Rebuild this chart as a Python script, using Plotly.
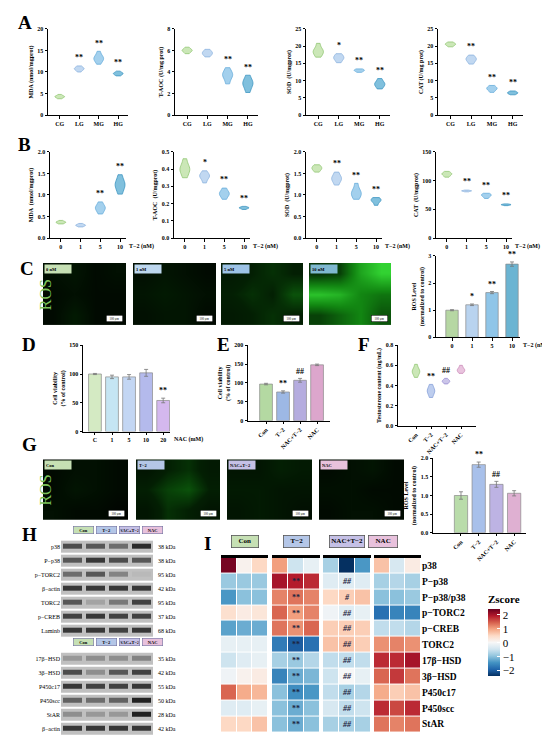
import plotly.graph_objects as go

W, H = 550, 735
SERIF = "Liberation Serif"

# ---------------- data ----------------
A_GROUPS = ["CG", "LG", "MG", "HG"]
A_MDA = [[3.8, 4.1, 4.3, 4.3, 4.4, 4.8], [10.0, 10.5, 10.7, 10.8, 11.0, 11.4],
         [11.8, 12.6, 13.0, 13.1, 13.3, 13.8, 14.8], [9.1, 9.4, 9.6, 9.7, 9.8, 10.2]]
A_TAOC = [[5.7, 5.9, 6.0, 6.0, 6.1, 6.3], [5.4, 5.6, 5.7, 5.8, 5.9, 6.1],
          [2.9, 3.4, 3.7, 3.8, 3.9, 4.4], [2.1, 2.6, 2.9, 3.0, 3.2, 3.7]]
A_SOD = [[16.8, 17.8, 18.3, 18.6, 19.2, 20.8], [15.2, 16.0, 16.5, 16.7, 17.2, 17.8],
         [12.4, 12.7, 12.9, 13.0, 13.2, 13.4], [7.6, 8.4, 8.9, 9.1, 9.6, 10.6]]
A_CAT = [[19.8, 20.2, 20.5, 20.6, 20.8, 21.2], [14.8, 15.6, 16.1, 16.3, 16.7, 17.4],
         [6.6, 7.3, 7.6, 7.8, 8.1, 8.6], [5.9, 6.2, 6.4, 6.5, 6.7, 7.0]]
A_SIG = [["", "**", "**", "**"], ["", "", "**", "**"], ["", "*", "**", "**"], ["", "**", "**", "**"]]

B_DOSES = ["0", "1", "5", "10"]
B_MDA = [[0.33, 0.35, 0.37, 0.37, 0.38, 0.41], [0.26, 0.28, 0.30, 0.30, 0.31, 0.34],
         [0.56, 0.64, 0.69, 0.71, 0.75, 0.84], [1.02, 1.15, 1.22, 1.26, 1.32, 1.47]]
B_TAOC = [[0.35, 0.38, 0.40, 0.40, 0.42, 0.46], [0.32, 0.345, 0.36, 0.36, 0.37, 0.39],
          [0.225, 0.245, 0.255, 0.26, 0.27, 0.29], [0.166, 0.172, 0.175, 0.176, 0.178, 0.184]]
B_SOD = [[1.53, 1.58, 1.61, 1.63, 1.66, 1.70], [1.23, 1.32, 1.37, 1.39, 1.44, 1.53],
         [0.90, 0.98, 1.03, 1.06, 1.12, 1.27], [0.76, 0.83, 0.87, 0.88, 0.91, 0.94]]
B_CAT = [[106, 109, 111, 112, 113, 116], [80.5, 81.5, 82, 82.2, 82.5, 83.5],
         [69, 72, 74, 75, 76, 78], [56.5, 57.5, 58, 58.2, 58.6, 59.5]]
B_SIG = [["", "", "**", "**"], ["", "*", "**", "**"], ["", "**", "**", "**"], ["", "**", "**", "**"]]

C_LABELS = ["0 nM", "1 nM", "5 nM", "10 nM"]
# mean green intensity in a 3x4 grid of each micrograph (top row first)
C_IMAGES = [
    [[0.15, 0.20, 0.10, 0.15], [0.10, 0.15, 0.10, 0.10], [0.10, 0.25, 0.10, 0.10]],
    [[0.15, 0.20, 0.15, 0.10], [0.20, 0.25, 0.20, 0.15], [0.15, 0.20, 0.20, 0.10]],
    [[0.25, 0.30, 0.35, 0.30], [0.30, 0.35, 0.30, 0.45], [0.25, 0.30, 0.35, 0.30]],
    [[0.35, 0.40, 0.70, 0.85], [0.80, 0.75, 0.60, 0.55], [0.40, 0.50, 0.60, 0.45]],
]
C_ROS = [1.0, 1.2, 1.65, 2.7]
C_ROS_ERR = [0.02, 0.03, 0.04, 0.08]
C_SIG = ["", "*", "**", "**"]

D_DOSES = ["C", "1", "5", "10", "20"]
D_VIAB = [100, 95, 95, 102, 54]
D_ERR = [1, 3, 4, 6, 4]
D_SIG = ["", "", "", "", "**"]

TREAT = ["Con", "T−2", "NAC+T−2", "NAC"]
E_VIAB = [97, 76, 107, 148]
E_ERR = [2, 3, 5, 2]
E_SIG = ["", "**", "##", ""]

F_TESTO = [[0.48, 0.52, 0.54, 0.54, 0.56, 0.61], [0.28, 0.32, 0.34, 0.35, 0.37, 0.41],
           [0.415, 0.43, 0.44, 0.445, 0.45, 0.47], [0.52, 0.54, 0.55, 0.555, 0.57, 0.60]]
F_SIG = ["", "**", "##", ""]

G_IMAGES = [
    [[0.10, 0.15, 0.15, 0.10], [0.10, 0.20, 0.15, 0.10], [0.15, 0.10, 0.10, 0.05]],
    [[0.20, 0.30, 0.35, 0.25], [0.30, 0.40, 0.45, 0.30], [0.20, 0.35, 0.30, 0.20]],
    [[0.20, 0.20, 0.30, 0.25], [0.25, 0.25, 0.20, 0.20], [0.20, 0.25, 0.20, 0.15]],
    [[0.10, 0.15, 0.20, 0.10], [0.15, 0.15, 0.10, 0.10], [0.10, 0.15, 0.15, 0.10]],
]
G_ROS = [1.0, 1.83, 1.30, 1.06]
G_ROS_ERR = [0.10, 0.07, 0.08, 0.07]
G_SIG = ["", "**", "##", ""]

BLOT1_ROWS = ["p38", "P−p38", "p−TORC2", "β−actin", "TORC2", "p−CREB", "Laminb"]
BLOT1_KDA = ["38 kDa", "38 kDa", "95 kDa", "42 kDa", "95 kDa", "37 kDa", "68 kDa"]
BLOT1_BANDS = [[0.75, 0.70, 0.60, 0.90], [0.70, 0.85, 0.75, 0.70], [0.60, 0.70, 0.50, 0.25],
               [0.85, 0.85, 0.85, 0.85], [0.70, 0.35, 0.55, 0.80], [0.80, 0.85, 0.80, 0.80],
               [0.85, 0.85, 0.80, 0.85]]
BLOT2_ROWS = ["17β−HSD", "3β−HSD", "P450c17", "P450scc", "StAR", "β−actin"]
BLOT2_KDA = ["35 kDa", "42 kDa", "55 kDa", "50 kDa", "28 kDa", "42 kDa"]
BLOT2_BANDS = [[0.40, 0.45, 0.45, 0.50], [0.75, 0.45, 0.70, 0.80], [0.85, 0.80, 0.80, 0.85],
               [0.65, 0.60, 0.65, 0.95], [0.45, 0.40, 0.40, 0.95], [0.85, 0.85, 0.85, 0.85]]

HM_ROWS = ["p38", "P−p38", "P−p38/p38", "p−TORC2", "p−CREB", "TORC2",
           "17β−HSD", "3β−HSD", "P450c17", "P450scc", "StAR"]
HM_CON = [[2.3, 0.1, 0.5], [-0.9, -0.9, -0.9], [-1.4, -1.0, -1.0], [0.4, 0.2, 0.3], [-1.3, -1.2, -1.2],
          [-0.2, -0.2, -0.2], [-0.5, -0.3, -0.2], [-0.1, 0.1, 0.2], [1.4, 0.9, 0.8], [-0.3, -0.3, -0.2], [0.5, 0.5, 0.7]]
HM_T2 = [[1.0, -0.5, -0.2], [2.0, 1.9, 1.8], [1.2, 1.3, 1.2], [1.4, 1.0, 1.2], [1.3, 1.1, 1.4],
         [-1.7, -2.0, -1.8], [-0.8, -0.9, -0.7], [-1.6, -1.2, -1.1], [-1.0, -1.5, -1.4], [-1.0, -1.2, -1.0], [-1.0, -1.2, -1.0]]
HM_NACT2 = [[-0.8, -2.4, -1.4], [-0.3, -0.3, -0.3], [0.5, 0.6, 0.7], [-0.1, -0.3, -0.2], [0.6, 0.6, 0.6],
            [0.7, 0.7, 0.6], [-0.6, -0.6, -0.6], [-0.5, 0.0, -0.2], [-0.6, -0.8, -0.7], [-0.4, -0.6, -0.5], [-0.8, -0.8, -0.8]]
HM_NAC = [[0.7, -0.4, 0.2], [-0.8, -0.7, -0.8], [-1.0, -1.0, -0.9], [-1.8, -1.6, -1.6], [-0.6, -0.6, -0.7],
          [1.1, 1.2, 1.1], [1.8, 1.8, 2.0], [1.4, 1.7, 1.3], [0.9, 0.6, 0.7], [1.8, 1.6, 1.8], [1.3, 1.2, 1.3]]
HM_T2_SIG = ["", "**", "**", "**", "**", "**", "**", "**", "**", "**", "**"]
HM_NACT2_SIG = ["", "##", "#", "##", "##", "##", "##", "##", "##", "##", "##"]

# ---------------- styles ----------------
VIOLIN_BLUES = [("rgba(190,225,165,0.8)", "#92c673"), ("rgba(178,206,238,0.8)", "#8cb2de"),
                ("rgba(140,196,232,0.8)", "#66acdb"), ("rgba(96,176,212,0.8)", "#3d95c2")]
VIOLIN_TREAT = [("rgba(190,225,165,0.8)", "#92c673"), ("rgba(172,192,234,0.8)", "#859fd8"),
                ("rgba(190,182,228,0.8)", "#978cd0"), ("rgba(228,180,214,0.8)", "#c98ab7")]
HDR_COLORS = ["#c6e0b4", "#b4c6e7", "#c5c0e6", "#e8c1dc"]
C_TAB_COLORS = ["#c6e0b4", "#bdd7ee", "#9dc3e6", "#7fb8d0"]
GLOW = [[0, "#000000"], [0.3, "#031f03"], [0.6, "#128612"], [1, "#45ff45"]]
BLOT_SCALE = [[0, "#f2f2f2"], [0.25, "#b9b9b9"], [1, "#161616"]]
RDBU = [[0.0, "#053061"], [0.1, "#2166ac"], [0.2, "#4393c3"], [0.3, "#92c5de"], [0.4, "#d1e5f0"],
        [0.5, "#f7f7f7"], [0.6, "#fddbc7"], [0.7, "#f4a582"], [0.8, "#d6604d"], [0.9, "#b2182b"], [1.0, "#67001f"]]

TICKFONT = dict(family=SERIF, size=6, color="black", weight="bold")
AX = dict(showline=True, linecolor="black", linewidth=1, ticks="outside", ticklen=2.5, tickwidth=1,
          tickcolor="black", showgrid=False, zeroline=False, tickfont=TICKFONT)

fig = go.Figure()
_n = [0]


def axes(x0, x1, top, bottom, xa=None, ya=None):
    _n[0] += 1
    s = "" if _n[0] == 1 else str(_n[0])
    xd = dict(AX, domain=[x0 / W, x1 / W], anchor="y" + s)
    yd = dict(AX, domain=[1 - bottom / H, 1 - top / H], anchor="x" + s)
    xd.update(xa or {})
    yd.update(ya or {})
    fig.update_layout({"xaxis" + s: xd, "yaxis" + s: yd})
    return "x" + s, "y" + s


def text(x, y, t, size=6, **kw):
    fig.add_annotation(x=x / W, y=1 - y / H, xref="paper", yref="paper", text=t, showarrow=False,
                       font=dict(family=SERIF, size=size, color=kw.pop("color", "black"),
                                 weight=kw.pop("weight", "bold")), **kw)


def ytitle(t):
    return dict(text=t, font=dict(family=SERIF, size=6, color="black", weight="bold"), standoff=3)


def stars(xr, yr, tops, sig, pad, size=8):
    # x is given as the category index so that numeric-looking labels ("5", "10") stay on their slot
    for i, (t, s) in enumerate(zip(tops, sig)):
        if s:
            fig.add_annotation(x=i, y=t + pad, xref=xr, yref=yr, text=s, showarrow=False, yanchor="bottom",
                               font=dict(family=SERIF, size=size, color="black", weight="bold"))


def violin_panel(box, cats, data, sig, colors, yrange, dtick, title, xrange, fmt="", tickangle=0):
    xr, yr = axes(*box,
                  xa=dict(type="category", categoryorder="array", categoryarray=cats, range=xrange,
                          tickangle=tickangle),
                  ya=dict(range=yrange, dtick=dtick, tickformat=fmt, title=ytitle(title)))
    for c, vals, (fill, line) in zip(cats, data, colors):
        fig.add_trace(go.Violin(x=[c] * len(vals), y=vals, xaxis=xr, yaxis=yr, fillcolor=fill,
                                line=dict(color=line, width=0.8), width=0.5, points=False,
                                bandwidth=0.22 * (max(vals) - min(vals)),
                                spanmode="hard", showlegend=False, hoverinfo="skip"))
    stars(xr, yr, [max(v) for v in data], sig, (yrange[1] - yrange[0]) * 0.02)


def bar_panel(box, cats, vals, errs, sig, fills, yrange, dtick, title, xrange, bar_w, fmt="", tickangle=0):
    xr, yr = axes(*box,
                  xa=dict(type="category", categoryorder="array", categoryarray=cats, range=xrange,
                          tickangle=tickangle),
                  ya=dict(range=yrange, dtick=dtick, tickformat=fmt, title=ytitle(title)))
    fig.add_trace(go.Bar(x=cats, y=vals, width=bar_w, xaxis=xr, yaxis=yr, showlegend=False,
                         marker=dict(color=fills, line=dict(color="#8a8a8a", width=0.7)),
                         error_y=dict(type="data", array=errs, color="#777777", thickness=0.8, width=2)))
    stars(xr, yr, [v + e for v, e in zip(vals, errs)], sig, (yrange[1] - yrange[0]) * 0.01)


def image_panel(box, grid, label, tab_color):
    xr, yr = axes(*box, xa=dict(visible=False), ya=dict(visible=False, autorange="reversed"))
    fig.add_trace(go.Heatmap(z=grid, xaxis=xr, yaxis=yr, colorscale=GLOW, zmin=0, zmax=1,
                             zsmooth="best", showscale=False, hoverinfo="skip"))
    x0, x1, top, bottom = box
    text(x0 + 1, top + 1, label, size=4.5, xanchor="left", yanchor="top", bgcolor=tab_color,
         width=24, height=6, align="left")
    text(x1 - 3, bottom - 3, "100 μm", size=3, weight="normal", xanchor="right", yanchor="bottom",
         bgcolor="white", bordercolor="black", borderwidth=0.5, width=14, height=4)


# ---------------- A ----------------
A_BOXES = [(40, 120), (167, 250), (298, 382), (430, 515)]
A_TITLES = ["MDA (nmol/mgprot)", "T-AOC (U/mg prot)", "SOD  (U/mgprot)", "CAT (U/mg prot)"]
A_RANGES = [([0, 20], 5), ([0, 8], 2), ([0, 25], 5), ([0, 25], 5)]
for (x0, x1), d, s, t, (rg, dt) in zip(A_BOXES, [A_MDA, A_TAOC, A_SOD, A_CAT], A_SIG, A_TITLES, A_RANGES):
    violin_panel((x0, x1, 18, 105), A_GROUPS, d, s, VIOLIN_BLUES, rg, dt, t, [-0.6, 3.5])

# ---------------- B ----------------
B_BOXES = [(42, 118), (166, 242), (298, 374), (428, 504)]
B_TITLES = ["MDA  (nmol/mgprot)", "T-AOC  (U/mgprot)", "SOD  (U/mgprot)", "CAT  (U/mgprot)"]
B_RANGES = [([0, 2], 0.5, ".1f"), ([0, 0.5], 0.1, ".1f"), ([0, 2], 0.5, ".1f"), ([0, 150], 50, "")]
for (x0, x1), d, s, t, (rg, dt, f) in zip(B_BOXES, [B_MDA, B_TAOC, B_SOD, B_CAT], B_SIG, B_TITLES, B_RANGES):
    violin_panel((x0, x1, 142, 229), B_DOSES, d, s, VIOLIN_BLUES, rg, dt, t, [-0.55, 3.3], fmt=f)
    text(x1 + 1, 237, "T−2 (nM)", xanchor="left", yanchor="middle")

# ---------------- C ----------------
C_IMG_BOXES = [(35, 118), (125, 208), (213, 295), (301, 383)]
for (x0, x1), g, lab, col in zip(C_IMG_BOXES, C_IMAGES, C_LABELS, C_TAB_COLORS):
    image_panel((x0, x1, 254, 317), g, lab, col)
text(27, 286, "ROS", size=16, color="#7cc25a", weight="normal", textangle=-90)
bar_panel((428, 512, 247, 329), B_DOSES, C_ROS, C_ROS_ERR, C_SIG,
          ["#b6d7a3", "#b9d3ef", "#8fc5e8", "#6bb4d2"], [0, 3], 1,
          "ROS Level<br>(normalized to control)", [-0.8, 3.4], 0.62)
text(513, 337, "T−2 (nM)", xanchor="left", yanchor="middle")

# ---------------- D / E / F ----------------
bar_panel((75, 162, 337, 424), D_DOSES, D_VIAB, D_ERR, D_SIG,
          ["#d4eac3", "#c5e5f3", "#c3d6f3", "#b4baec", "#d4b8ee"], [0, 150], 50,
          "Cell viability<br>(% of control)", [-0.7, 4.4], 0.75)
text(164, 432, "NAC (mM)", xanchor="left", yanchor="middle")
bar_panel((240, 322, 337, 413), TREAT, E_VIAB, E_ERR, E_SIG,
          ["#b4d9a2", "#9db8e5", "#b5acdf", "#dca6cc"], [0, 200], 50,
          "Cell viability<br>(% of control)", [-1.06, 3.76], 0.75, tickangle=-45)
violin_panel((390, 468, 337, 418), TREAT, F_TESTO, F_SIG, VIOLIN_TREAT, [0, 0.8], 0.2,
             "Testosterone content (ng/mL)", [-1.2, 4.0], fmt=".1f", tickangle=-45)

# ---------------- G ----------------
G_IMG_BOXES = [(35, 120), (128, 212), (219, 304), (311, 396)]
for (x0, x1), g, lab, col in zip(G_IMG_BOXES, G_IMAGES, TREAT, HDR_COLORS):
    image_panel((x0, x1, 452, 513), g, lab, col)
text(27, 483, "ROS", size=16, color="#7cc25a", weight="normal", textangle=-90)
bar_panel((425, 518, 451, 526), TREAT, G_ROS, G_ROS_ERR, G_SIG,
          ["#b9dcaa", "#a8c0ea", "#bdb3e3", "#dfb0d2"], [0, 2], 0.5,
          "ROS Level<br>(normalized to control)", [-1.58, 3.67], 0.75, fmt=".1f", tickangle=-45)

# ---------------- H: western blots ----------------
def blot_panel(box, rows, kda, bands):
    x0, x1, top, bottom = box
    xr, yr = axes(*box, xa=dict(visible=False, range=[-0.5, 3.5]),
                  ya=dict(type="category", autorange="reversed", showline=False, ticks="",
                          tickfont=dict(family=SERIF, size=6, color="black")))
    lanes = list(range(len(bands[0])))
    fig.add_trace(go.Heatmap(z=[[0.22] * len(lanes) for _ in rows], x=lanes, y=rows, xaxis=xr, yaxis=yr,
                             colorscale=BLOT_SCALE, zmin=0, zmax=1, showscale=False, ygap=2,
                             hoverinfo="skip"))
    fig.add_trace(go.Heatmap(z=bands, x=lanes, y=rows, xaxis=xr, yaxis=yr, colorscale=BLOT_SCALE,
                             zmin=0, zmax=1, showscale=False, ygap=9, xgap=4, hoverinfo="skip"))
    for r, k in zip(rows, kda):
        fig.add_annotation(x=(x1 + 3) / W, xref="paper", y=r, yref=yr, text=k, showarrow=False,
                           xanchor="left", font=dict(family=SERIF, size=6, color="black"))
    lane_w = (x1 - x0) / len(lanes)
    for i, (lab, col) in enumerate(zip(TREAT, HDR_COLORS)):
        text(x0 + (i + 0.5) * lane_w, top - 6, lab, size=4.5, bgcolor=col, bordercolor="#6f6f9f",
             borderwidth=0.6, width=lane_w - 5, height=5)


blot_panel((53, 145, 533, 632), BLOT1_ROWS, BLOT1_KDA, BLOT1_BANDS)
blot_panel((53, 145, 646, 731), BLOT2_ROWS, BLOT2_KDA, BLOT2_BANDS)

# ---------------- I: z-score heatmap ----------------
HM_BOXES = [(213, 260), (264, 312), (315, 363), (366, 413)]
HM_DATA = [HM_CON, HM_T2, HM_NACT2, HM_NAC]
HM_SIGS = [[""] * len(HM_ROWS), HM_T2_SIG, HM_NACT2_SIG, [""] * len(HM_ROWS)]
for b, ((x0, x1), z, sig, lab, col) in enumerate(zip(HM_BOXES, HM_DATA, HM_SIGS, TREAT, HDR_COLORS)):
    last = b == len(HM_BOXES) - 1
    xr, yr = axes(x0, x1, 551, 727,
                  xa=dict(side="top", range=[-0.5, 2.5], linewidth=2.5, ticks="", showticklabels=False),
                  ya=dict(type="category", autorange="reversed", showline=False, ticks="", side="right",
                          showticklabels=last,
                          tickfont=dict(family=SERIF, size=9.5, color="black", weight="bold")))
    fig.add_trace(go.Heatmap(z=z, x=[0, 1, 2], y=HM_ROWS, xaxis=xr, yaxis=yr, coloraxis="coloraxis",
                             xgap=1, ygap=1, hoverinfo="skip"))
    for r, s in zip(HM_ROWS, sig):
        if s:
            fig.add_annotation(x=1, y=r, xref=xr, yref=yr, text=s, showarrow=False,
                               font=dict(family=SERIF, size=8, color="#1c2340", weight="bold",
                                         style="italic" if s.startswith("#") else "normal"))
    # pad short labels a little so the header boxes come out closer in width
    pad = "&nbsp;" * max(0, round((7.5 - len(lab)) * 0.7))
    text((x0 + x1) / 2, 541, pad + lab + pad, size=7, bgcolor=col, bordercolor="#555555",
         borderwidth=0.8, borderpad=1.5)

# ---------------- panel letters ----------------
for lab, x, y in [("A", 8, 12), ("B", 8, 135), ("C", 10, 260), ("D", 12, 336), ("E", 207, 336),
                  ("F", 348, 336), ("G", 12, 437), ("H", 12, 528), ("I", 194, 537)]:
    text(x, y, lab, size=19, xanchor="left", yanchor="middle")

fig.update_layout(
    width=W, height=H, margin=dict(l=0, r=0, t=0, b=0),
    paper_bgcolor="white", plot_bgcolor="white",
    violinmode="overlay", showlegend=False,
    coloraxis=dict(colorscale=RDBU, cmin=-2.4, cmax=2.4,
                   colorbar=dict(x=480 / W, xanchor="left", xpad=0, ypad=0,
                                 y=1 - 586 / H, yanchor="top",
                                 len=84, lenmode="pixels", thickness=12, outlinewidth=0,
                                 tickvals=[-2, -1, 0, 1, 2], ticktext=["−2", "−1", "0", "1", "2"],
                                 ticks="inside", ticklen=3, tickcolor="white",
                                 tickfont=dict(family=SERIF, size=11, color="black"),
                                 title=dict(text="Zscore", side="top",
                                            font=dict(family=SERIF, size=11, color="black",
                                                      weight="bold")))),
)

fig.write_html("out.html")
